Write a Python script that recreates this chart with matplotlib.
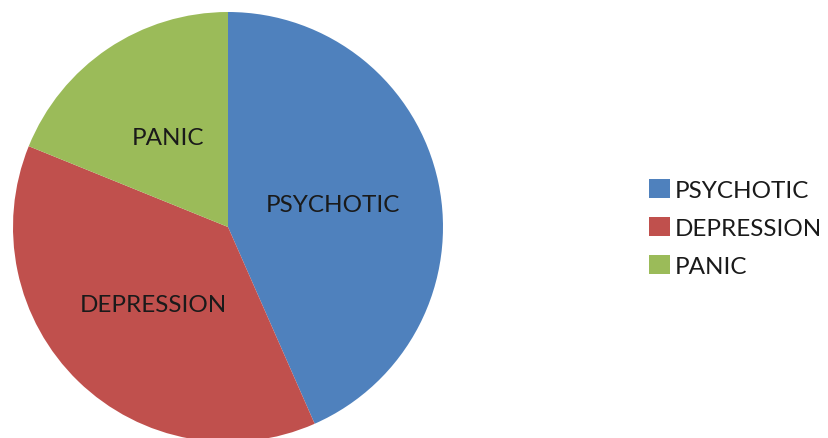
import matplotlib.pyplot as plt

categories = ['PSYCHOTIC', 'DEPRESSION', 'PANIC']
counts = [23, 20, 10]
colors = ['#4F81BD', '#C0504D', '#9BBB59']

plt.rcParams['font.family'] = ['Lato', 'DejaVu Sans']

W, H = 829, 439
fig = plt.figure(figsize=(W / 100, H / 100), dpi=100)

# pie centre at (228, 228) px from top-left, radius 215 px
cx, cy, r = 228, 228, 215
ax = fig.add_axes([(cx - r) / W, (H - cy - r) / H, 2 * r / W, 2 * r / H])
wedges, texts = ax.pie(counts, labels=categories, colors=colors, startangle=90,
                       counterclock=False, labeldistance=0.5, radius=1,
                       textprops=dict(fontsize=17.5, color='#1a1a1a'))
for t in texts:
    t.set_ha('center')
    t.set_va('center')
ax.set_xlim(-1, 1)
ax.set_ylim(-1, 1)
ax.set_aspect('auto')
ax.axis('off')

fig.legend(wedges, categories, loc='center left',
           bbox_to_anchor=(649 / W, 1 - 229 / H), frameon=False,
           borderaxespad=0, borderpad=0,
           fontsize=17.5, handlelength=0.86, handleheight=0.82,
           handletextpad=0.2, labelspacing=0.65, labelcolor='#1a1a1a')

fig.savefig('out.png', dpi=100)
